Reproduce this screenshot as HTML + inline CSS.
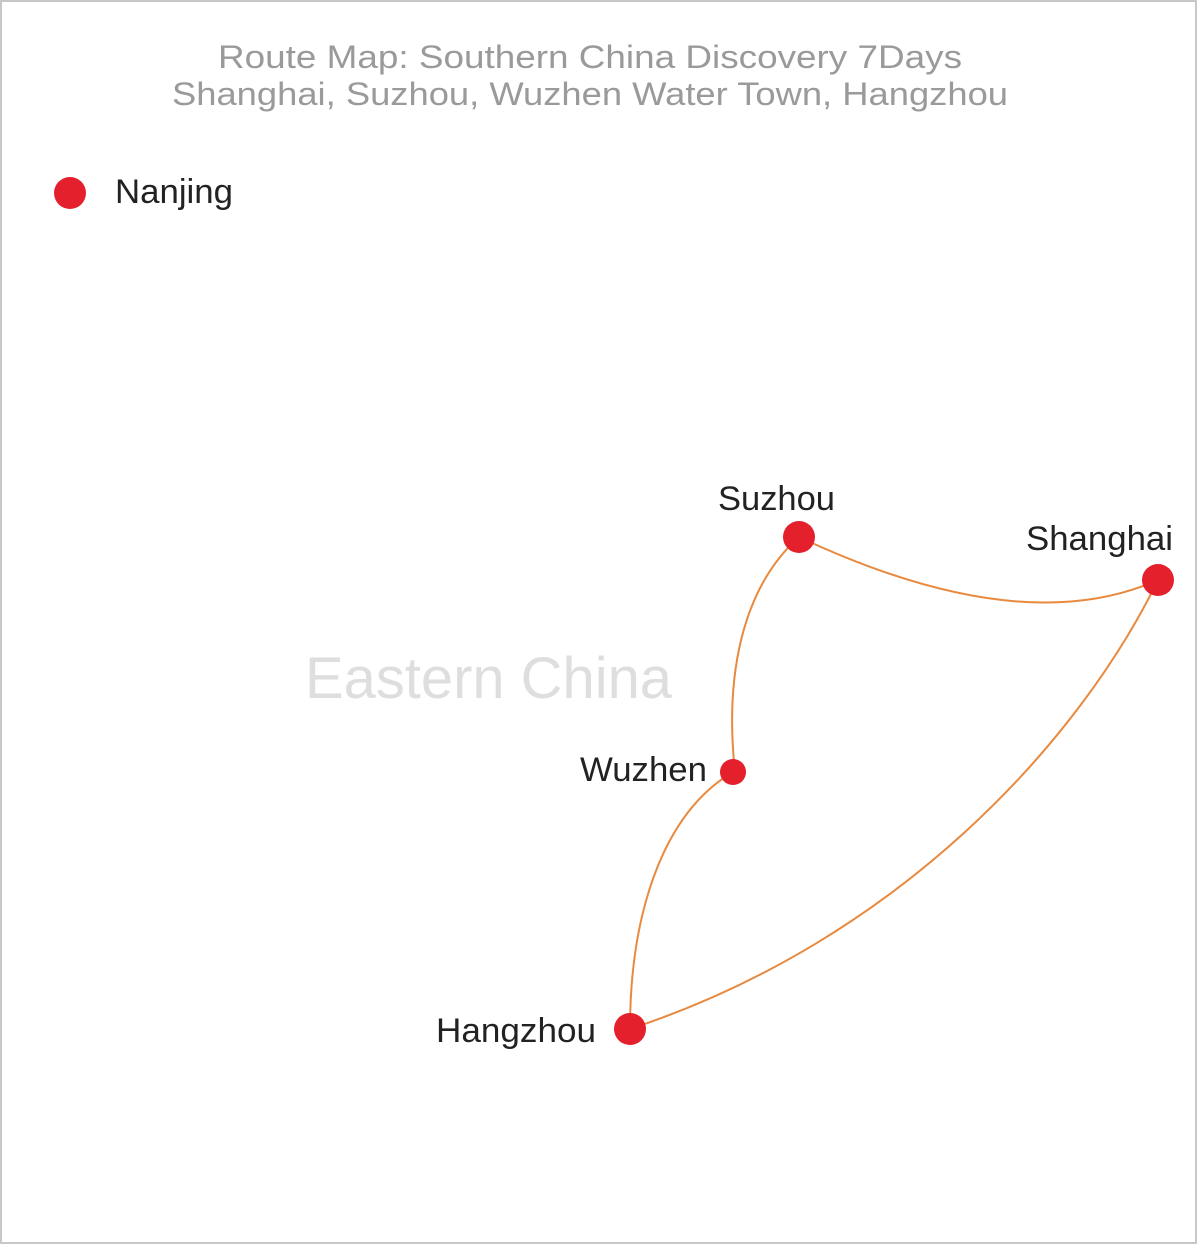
<!DOCTYPE html>
<html><head><meta charset="utf-8"><style>
html,body{margin:0;padding:0;background:#fff}
svg{display:block}
text{font-family:"Liberation Sans",sans-serif}
</style></head><body>
<svg width="1197" height="1244" viewBox="0 0 1197 1244" xmlns="http://www.w3.org/2000/svg">
<rect x="1" y="1" width="1195" height="1242" fill="#fff" stroke="#c8c8c8" stroke-width="2"/>
<text x="218" y="68" font-size="32" fill="#9a9a9a" textLength="744" lengthAdjust="spacingAndGlyphs">Route Map: Southern China Discovery 7Days</text>
<text x="172" y="105" font-size="32" fill="#9a9a9a" textLength="836" lengthAdjust="spacingAndGlyphs">Shanghai, Suzhou, Wuzhen Water Town, Hangzhou</text>
<text x="305" y="698" font-size="58" fill="#dedede" textLength="367" lengthAdjust="spacingAndGlyphs">Eastern China</text>
<g fill="none" stroke="#e8893e" stroke-width="2">
<path d="M799,537 Q1021,641 1158,580"/>
<path d="M799,537 C740,590 725,680 735,772"/>
<path d="M733,772 C660,815 630,920 630,1029"/>
<path d="M1158,580 C1080,740 900,940 630,1029"/>
</g>
<g fill="#e4202c">
<circle cx="70" cy="193" r="16"/>
<circle cx="799" cy="537" r="16"/>
<circle cx="1158" cy="580" r="16"/>
<circle cx="733" cy="772" r="13"/>
<circle cx="630" cy="1029" r="16"/>
</g>
<g font-size="34" fill="#222">
<text x="115" y="203" textLength="118" lengthAdjust="spacingAndGlyphs">Nanjing</text>
<text x="718" y="510" textLength="117" lengthAdjust="spacingAndGlyphs">Suzhou</text>
<text x="1026" y="550" textLength="147" lengthAdjust="spacingAndGlyphs">Shanghai</text>
<text x="580" y="781" textLength="127" lengthAdjust="spacingAndGlyphs">Wuzhen</text>
<text x="436" y="1042" textLength="160" lengthAdjust="spacingAndGlyphs">Hangzhou</text>
</g>
</svg>
</body></html>
